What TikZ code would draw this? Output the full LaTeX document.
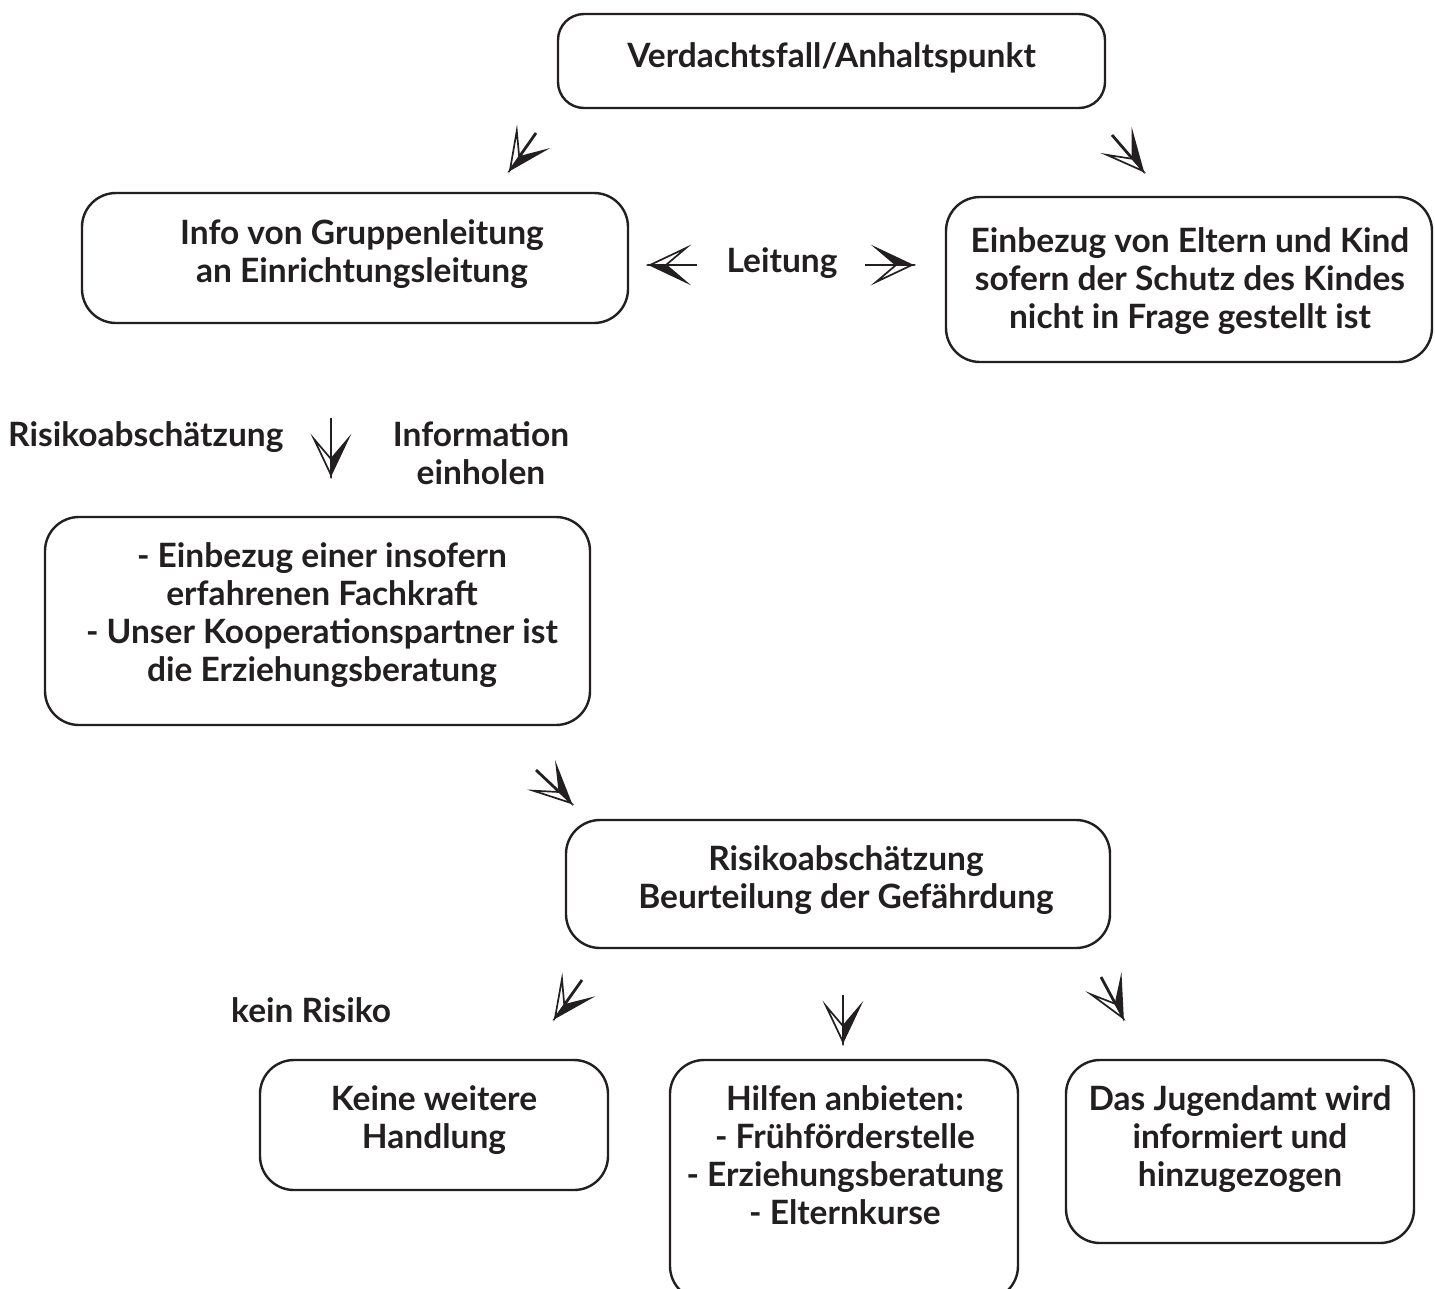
\documentclass[tikz,border=0pt]{standalone}
\usepackage{fontspec}
\setmainfont{Lato}
\usetikzlibrary{calc}
\definecolor{ink}{HTML}{231F20}
\begin{document}
\begin{tikzpicture}[x=1pt,y=1pt,
  box/.style={draw=ink, line width=2.4pt, rounded corners=34pt, inner sep=0pt},
  txt/.style={text=ink, font=\fontsize{33.5}{38}\selectfont\bfseries, align=center, inner sep=0pt, anchor=base},
  shaft/.style={draw=ink, line width=2.8pt, shorten >=17pt},
  hhead/.pic={
    \filldraw[draw=ink, fill=ink, line width=1.6pt, line join=miter] (0,0) -- (-36,17) -- (-16,0) -- cycle;
    \draw[draw=ink, line width=1.7pt, line join=miter] (0,0) -- (-36,-17) -- (-16,0) -- cycle;}
]
\useasboundingbox[fill=white] (0,0) rectangle (1435,-1288);

% boxes
\node[box, rounded corners=26pt, minimum width=547pt, minimum height=94pt] (top) at (831.5,-61) {};
\node[box, minimum width=546pt, minimum height=130pt] (info) at (355,-258) {};
\node[box, minimum width=486pt, minimum height=165pt] (einb) at (1189,-279.5) {};
\node[box, minimum width=545pt, minimum height=208pt] (fach) at (317.5,-621) {};
\node[box, minimum width=544pt, minimum height=128pt] (risk) at (838,-884) {};
\node[box, minimum width=348pt, minimum height=130pt] (keine) at (434,-1125) {};
\node[box, minimum width=348pt, minimum height=240pt] (hilf) at (844,-1180) {};
\node[box, minimum width=348pt, minimum height=183pt] (jug) at (1240,-1151.5) {};

% texts (base anchor = baseline of last line)
\node[txt] (ttop) at (831.5,-67) {Verdachtsfall/Anhaltspunkt};
\node[txt] (tinfo) at (362,-282) {Info von Gruppenleitung\\an Einrichtungsleitung};
\node[txt] (teinb) at (1190,-328) {Einbezug von Eltern und Kind\\sofern der Schutz des Kindes\\nicht in Frage gestellt ist};
\node[txt] (tleit) at (782,-272) {Leitung};
\node[txt, anchor=base west] (trisl) at (8,-446) {Risikoabschätzung};
\node[txt] (tinfo2) at (481,-484) {Information\\einholen};
\node[txt] (tfach) at (322,-681) {- Einbezug einer insofern\\erfahrenen Fachkraft\\- Unser Kooperationspartner ist\\die Erziehungsberatung};
\node[txt] (trisk) at (846,-908) {Risikoabschätzung\\Beurteilung der Gefährdung};
\node[txt, anchor=base west] (tkein) at (231,-1022) {kein Risiko};
\node[txt] (tkeine) at (434,-1148) {Keine weitere\\Handlung};
\node[txt] (thilf) at (845,-1224) {Hilfen anbieten:\\- Frühförderstelle\\- Erziehungsberatung\\- Elternkurse};
\node[txt] (tjug) at (1240,-1186) {Das Jugendamt wird\\informiert und\\hinzugezogen};

% arrow glyphs
\coordinate (a1s) at (536,-133); \coordinate (a1e) at (510,-170);
\coordinate (a2s) at (1112,-135); \coordinate (a2e) at (1143,-171);
\coordinate (l1s) at (697,-265); \coordinate (l1e) at (650,-265);
\coordinate (l2s) at (865,-265); \coordinate (l2e) at (912,-265);
\coordinate (d1s) at (331,-418); \coordinate (d1e) at (331,-475);
\coordinate (a5s) at (536,-770); \coordinate (a5e) at (571,-803);
\coordinate (a6s) at (582,-980); \coordinate (a6e) at (555,-1018);
\coordinate (d2s) at (843,-995); \coordinate (d2e) at (843,-1042);
\coordinate (a8s) at (1101,-977); \coordinate (a8e) at (1123,-1018);
\foreach \k in {a1,a2,l1,l2,d1,a5,a6,d2,a8} {
  \draw[shaft] (\k s) -- (\k e);
  \path let \p1=($(\k e)-(\k s)$), \n1={atan2(\y1,\x1)} in pic[rotate=\n1] at (\k e) {hhead};
}
\end{tikzpicture}
\end{document}
